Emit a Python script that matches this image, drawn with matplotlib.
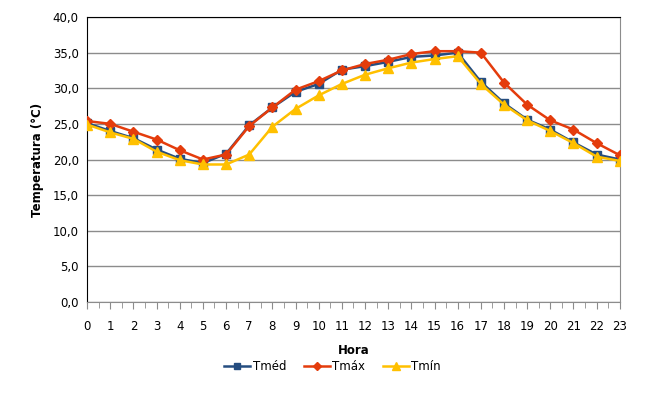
import matplotlib.pyplot as plt
from matplotlib.ticker import FuncFormatter, MultipleLocator

horas = list(range(24))
tmed = [25.1, 24.0, 23.0, 21.4, 20.1, 19.5, 20.8, 24.8, 27.3, 29.5, 30.6, 32.6,
        33.1, 33.7, 34.4, 34.6, 35.0, 30.9, 27.9, 25.6, 24.2, 22.4, 20.7, 20.0]
tmax = [25.4, 25.0, 23.9, 22.8, 21.3, 20.0, 20.7, 24.7, 27.3, 29.8, 31.0, 32.5,
        33.4, 34.0, 34.8, 35.2, 35.2, 35.0, 30.8, 27.7, 25.5, 24.2, 22.3, 20.6]
tmin = [24.9, 23.8, 22.9, 21.1, 19.9, 19.3, 19.3, 20.7, 24.6, 27.1, 29.0, 30.6,
        31.9, 32.8, 33.6, 34.1, 34.5, 30.6, 27.7, 25.5, 24.0, 22.3, 20.4, 19.8]

plt.rcParams['font.family'] = ['DejaVu Sans']

fig = plt.figure(figsize=(6.65, 4), dpi=100)
ax = fig.add_axes([0.131, 0.245, 0.801, 0.7125])

ax.plot(horas, tmed, color='#254D80', marker='s', markersize=5.5, lw=1.8, label='Tméd', zorder=3)
ax.plot(horas, tmax, color='#E43C0C', marker='D', markersize=5.5, lw=1.8, label='Tmáx', zorder=4)
ax.plot(horas, tmin, color='#FFC000', marker='^', markersize=6.5, lw=1.8, label='Tmín', zorder=5)

ax.set_xlim(0, 23)
ax.set_ylim(0, 40)
ax.set_xticks(horas)
ax.xaxis.set_minor_locator(MultipleLocator(0.5))
ax.yaxis.set_major_locator(MultipleLocator(5))
ax.yaxis.set_major_formatter(FuncFormatter(lambda v, p: f'{v:.1f}'.replace('.', ',')))
ax.grid(axis='y', color='#8C8C8C', lw=1)
ax.set_axisbelow(True)

for s in ['top', 'left']:
    ax.spines[s].set_color('black')
for s in ['right', 'bottom']:
    ax.spines[s].set_color('#8C8C8C')
ax.tick_params(axis='x', which='both', direction='out', colors='#8C8C8C', labelcolor='black',
               labelsize=8.5, pad=8)
ax.tick_params(axis='x', which='major', length=5)
ax.tick_params(axis='x', which='minor', length=4)
ax.tick_params(axis='y', length=0, labelsize=8.5, pad=6)

ax.set_xlabel('Hora', fontsize=8.5, fontweight='bold', labelpad=8)
ax.set_ylabel('Temperatura (°C)', fontsize=8.5, fontweight='bold', labelpad=6)

fig.legend(loc='center', bbox_to_anchor=(0.5, 0.083), ncol=3, frameon=False,
           fontsize=8.5, handlelength=2.2, handletextpad=0.2, columnspacing=1.5,
           markerscale=0.8)

fig.savefig('out.png', dpi=100)
